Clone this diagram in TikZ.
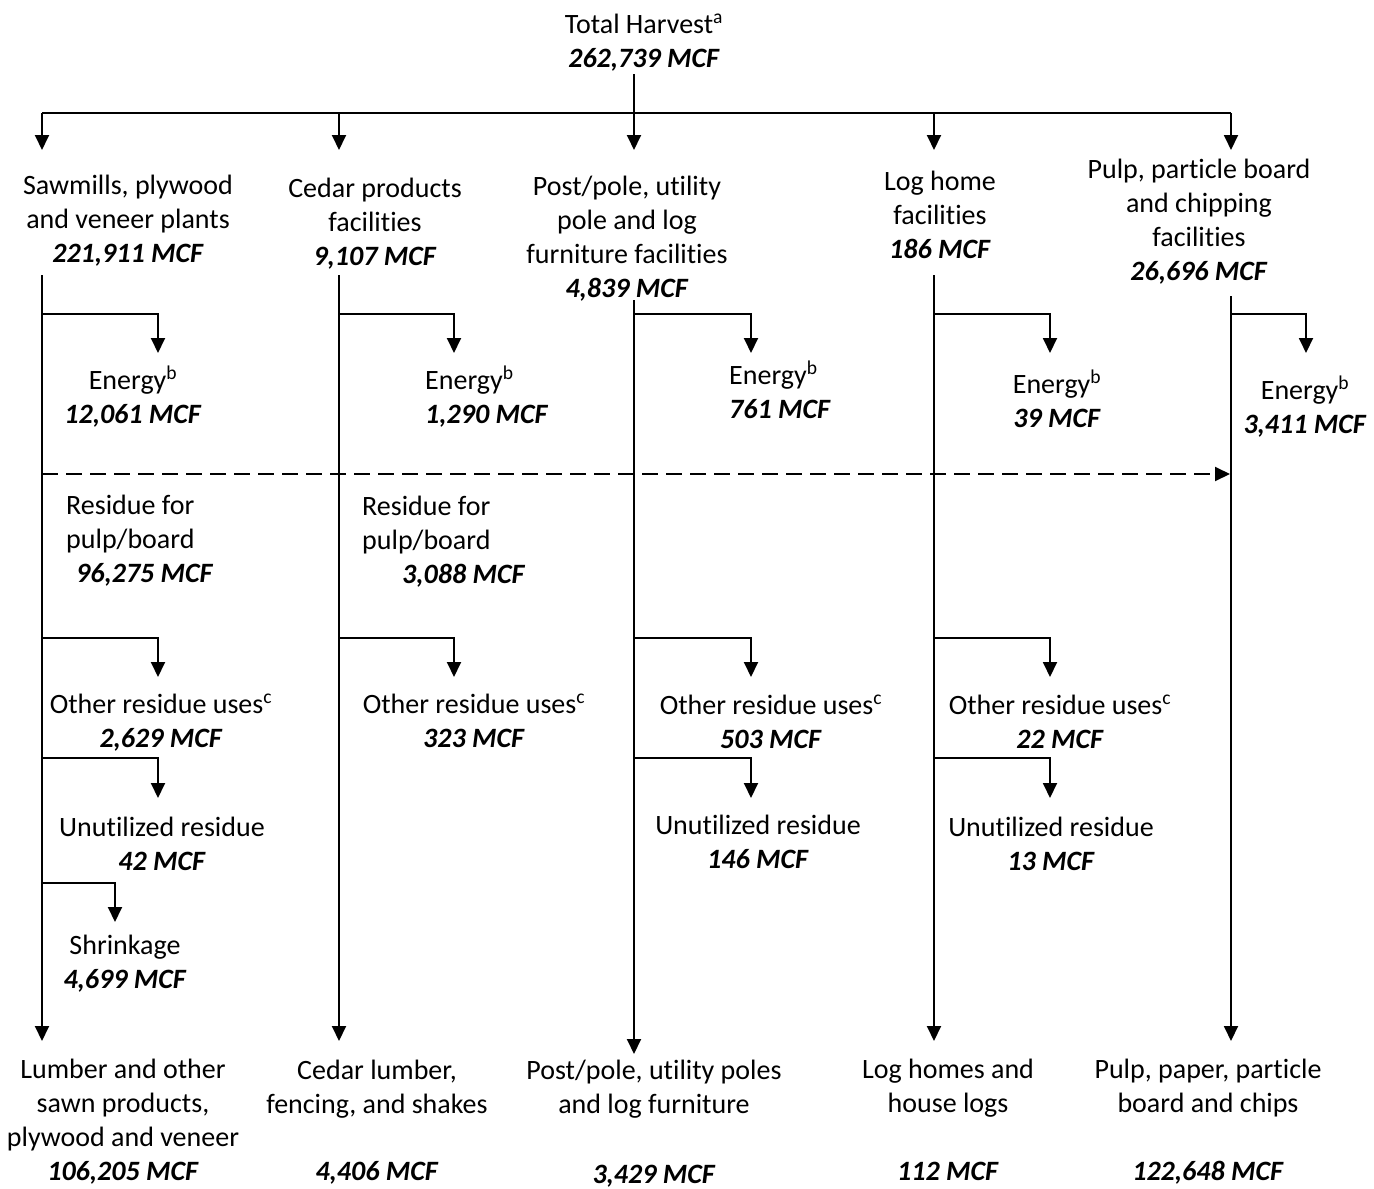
\documentclass[tikz,border=0pt]{standalone}
\usepackage{fontspec}
\setmainfont{Carlito}[Ligatures={NoCommon}]
\usetikzlibrary{arrows.meta}
\newcommand{\mcf}[1]{\textbf{\textit{#1}}}
\begin{document}
\begin{tikzpicture}[x=1pt,y=-1pt,
  lbl/.style={font=\fontsize{28}{34}\selectfont, inner sep=0pt, align=center, anchor=base},
  lbll/.style={font=\fontsize{28}{34}\selectfont, inner sep=0pt, align=left, anchor=base west},
  ln/.style={line width=1.9pt},
  arr/.style={line width=1.9pt, -{Triangle[width=14pt,length=15pt]}},
  darr/.style={line width=1.9pt, dash pattern=on 16pt off 8pt, -{Triangle[width=14pt,length=15pt]}}]
\useasboundingbox (0,0) rectangle (1374,1189);

% ---------- top ----------
\node[lbl] (th) at (644,67) {Total Harvest\textsuperscript{a}\\\mcf{262,739 MCF}};
\coordinate (t0) at (634,74);
\coordinate (t1) at (634,113);
\coordinate (hl) at (42,113);
\coordinate (h2) at (339,113);
\coordinate (h4) at (934,113);
\coordinate (hr) at (1231,113);
\coordinate (a1) at (42,150);
\coordinate (a2) at (339,150);
\coordinate (a3) at (634,150);
\coordinate (a4) at (934,150);
\coordinate (a5) at (1231,150);
\draw[ln] (t0) -- (t1);
\draw[ln] (hl) -- (hr);
\draw[arr] (hl) -- (a1);
\draw[arr] (h2) -- (a2);
\draw[arr] (t1) -- (a3);
\draw[arr] (h4) -- (a4);
\draw[arr] (hr) -- (a5);

% ---------- facility labels ----------
\node[lbl] (saw) at (128,262) {Sawmills, plywood\\and veneer plants\\\mcf{221,911 MCF}};
\node[lbl] (ced) at (375,265) {Cedar products\\facilities\\\mcf{9,107 MCF}};
\node[lbl] (pst) at (627,297) {Post/pole, utility\\pole and log\\furniture facilities\\\mcf{4,839 MCF}};
\node[lbl] (lgh) at (940,258) {Log home\\facilities\\\mcf{186 MCF}};
\node[lbl] (plp) at (1199,280) {Pulp, particle board\\and chipping\\facilities\\\mcf{26,696 MCF}};

% ---------- column verticals ----------
\coordinate (c1s) at (42,275);   \coordinate (c1e) at (42,1041);
\coordinate (c2s) at (339,275);  \coordinate (c2e) at (339,1041);
\coordinate (c3s) at (634,300);  \coordinate (c3e) at (634,1054);
\coordinate (c4s) at (934,275);  \coordinate (c4e) at (934,1041);
\coordinate (c5s) at (1231,296); \coordinate (c5e) at (1231,1041);
\draw[arr] (c1s) -- (c1e);
\draw[arr] (c2s) -- (c2e);
\draw[arr] (c3s) -- (c3e);
\draw[arr] (c4s) -- (c4e);
\draw[arr] (c5s) -- (c5e);

% ---------- branches ----------
% column 1
\coordinate (b11) at (42,314); \coordinate (b12) at (42,638); \coordinate (b13) at (42,758); \coordinate (b14) at (42,883);
\draw[arr] (b11) -| (158,353);
\draw[arr] (b12) -| (158,677);
\draw[arr] (b13) -| (158,798);
\draw[arr] (b14) -| (115,922);
% column 2
\coordinate (b21) at (339,314); \coordinate (b22) at (339,638);
\draw[arr] (b21) -| (454,353);
\draw[arr] (b22) -| (454,677);
% column 3
\coordinate (b31) at (634,314); \coordinate (b32) at (634,638); \coordinate (b33) at (634,758);
\draw[arr] (b31) -| (751,353);
\draw[arr] (b32) -| (751,677);
\draw[arr] (b33) -| (751,798);
% column 4
\coordinate (b41) at (934,314); \coordinate (b42) at (934,638); \coordinate (b43) at (934,758);
\draw[arr] (b41) -| (1050,353);
\draw[arr] (b42) -| (1050,677);
\draw[arr] (b43) -| (1050,798);
% column 5
\coordinate (b51) at (1231,314);
\draw[arr] (b51) -| (1306,353);

% dashed residue flow
\coordinate (d0) at (42,474);
\coordinate (d1) at (1230,474);
\draw[darr] (d0) -- (d1);

% ---------- branch labels ----------
\node[lbl] (e1) at (133,423) {Energy\textsuperscript{b}\\\mcf{12,061 MCF}};
\node[lbll] (e2) at (425,423) {Energy\textsuperscript{b}\\\mcf{1,290 MCF}};
\node[lbll] (e3) at (729,418) {Energy\textsuperscript{b}\\\mcf{761 MCF}};
\node[lbl] (e4) at (1057,427) {Energy\textsuperscript{b}\\\mcf{39 MCF}};
\node[lbl] (e5) at (1305,433) {Energy\textsuperscript{b}\\\mcf{3,411 MCF}};

\node[lbll] (r1) at (66,582) {Residue for\\pulp/board\\\hspace*{10pt}\mcf{96,275 MCF}};
\node[lbll] (r2) at (362,583) {Residue for\\pulp/board\\\hspace*{40pt}\mcf{3,088 MCF}};

\node[lbl] (o1) at (161,747) {Other residue uses\textsuperscript{c}\\\mcf{2,629 MCF}};
\node[lbl] (o2) at (474,747) {Other residue uses\textsuperscript{c}\\\mcf{323 MCF}};
\node[lbl] (o3) at (771,748) {Other residue uses\textsuperscript{c}\\\mcf{503 MCF}};
\node[lbl] (o4) at (1060,748) {Other residue uses\textsuperscript{c}\\\mcf{22 MCF}};

\node[lbl] (u1) at (162,870) {Unutilized residue\\\mcf{42 MCF}};
\node[lbl] (u3) at (758,868) {Unutilized residue\\\mcf{146 MCF}};
\node[lbl] (u4) at (1051,870) {Unutilized residue\\\mcf{13 MCF}};

\node[lbl] (s1) at (125,988) {Shrinkage\\\mcf{4,699 MCF}};

% ---------- products ----------
\node[lbl] (p1) at (123,1180) {Lumber and other\\sawn products,\\plywood and veneer\\\mcf{106,205 MCF}};
\node[lbl] (p2) at (377,1180) {Cedar lumber,\\fencing, and shakes\\[33pt]\mcf{4,406 MCF}};
\node[lbl] (p3) at (654,1183) {Post/pole, utility poles\\and log furniture\\[36pt]\mcf{3,429 MCF}};
\node[lbl] (p4) at (948,1180) {Log homes and\\house logs\\[34pt]\mcf{112 MCF}};
\node[lbl] (p5) at (1208,1180) {Pulp, paper, particle\\board and chips\\[34pt]\mcf{122,648 MCF}};
\end{tikzpicture}
\end{document}
